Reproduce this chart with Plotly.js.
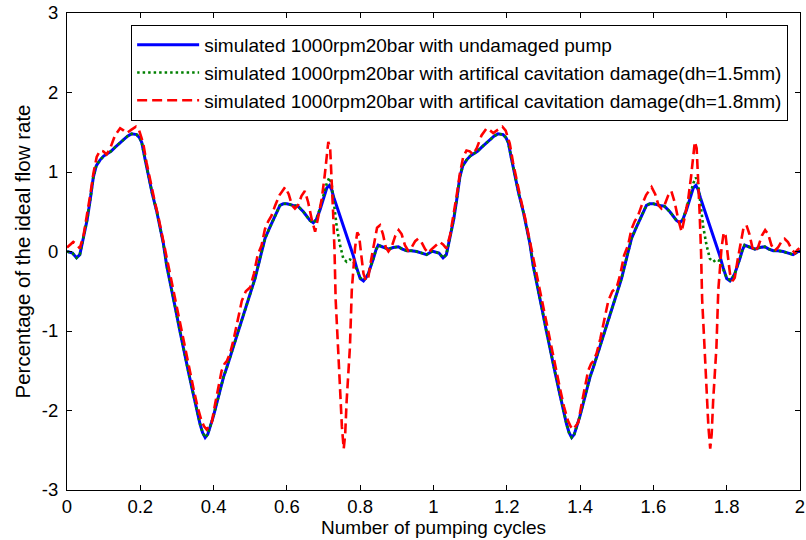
<!DOCTYPE html>
<html>
<head>
<meta charset="utf-8">
<script src="https://cdn.plot.ly/plotly-3.0.1.min.js"></script>
<style>
  html, body { margin: 0; padding: 0; background: #ffffff; }
  #chart { width: 806px; height: 540px; }
</style>
</head>
<body>
<div id="chart"></div>
<script>
// ---- Data ----
const seriesNames = [
  "simulated 1000rpm20bar with undamaged pump",
  "simulated 1000rpm20bar with artifical cavitation damage(dh=1.5mm)",
  "simulated 1000rpm20bar with artifical cavitation damage(dh=1.8mm)"
];

// x positions (pumping cycles) shared by the undamaged and dh=1.5mm curves
const xCycle1 = [
  0, 0.015, 0.026, 0.035, 0.045, 0.055, 0.063, 0.072, 0.08, 0.09,
  0.1, 0.11, 0.12, 0.131, 0.143, 0.154, 0.165, 0.176, 0.19, 0.198,
  0.204, 0.213, 0.222, 0.233, 0.245, 0.255, 0.263, 0.272, 0.285, 0.296,
  0.308, 0.32, 0.333, 0.345, 0.355, 0.363, 0.37, 0.377, 0.384, 0.39,
  0.399, 0.408, 0.418, 0.427, 0.436, 0.447, 0.457, 0.467, 0.478, 0.49,
  0.499, 0.513, 0.527, 0.54, 0.554, 0.568, 0.581, 0.59, 0.6, 0.617,
  0.63, 0.645, 0.655, 0.663, 0.672, 0.68, 0.69, 0.7, 0.709, 0.716,
  0.722, 0.728, 0.736, 0.745, 0.754, 0.763, 0.772, 0.781, 0.79, 0.8,
  0.809, 0.816, 0.822, 0.83, 0.836, 0.843, 0.849, 0.86, 0.877, 0.89,
  0.904, 0.915, 0.927, 0.94, 0.954, 0.968, 0.981, 0.995
];
const xCycle2 = [
  1, 1.015, 1.026, 1.035, 1.045, 1.055, 1.063, 1.072, 1.08, 1.09,
  1.1, 1.11, 1.12, 1.131, 1.143, 1.154, 1.165, 1.176, 1.19, 1.198,
  1.204, 1.213, 1.222, 1.233, 1.245, 1.255, 1.263, 1.272, 1.285, 1.296,
  1.308, 1.32, 1.333, 1.345, 1.355, 1.363, 1.37, 1.377, 1.384, 1.39,
  1.399, 1.408, 1.418, 1.427, 1.436, 1.447, 1.457, 1.467, 1.478, 1.49,
  1.499, 1.513, 1.527, 1.54, 1.554, 1.568, 1.581, 1.59, 1.6, 1.617,
  1.63, 1.645, 1.655, 1.663, 1.672, 1.68, 1.69, 1.7, 1.709, 1.716,
  1.722, 1.728, 1.736, 1.745, 1.754, 1.763, 1.772, 1.781, 1.79, 1.8,
  1.809, 1.816, 1.822, 1.83, 1.836, 1.843, 1.849, 1.86, 1.877, 1.89,
  1.904, 1.915, 1.927, 1.94, 1.954, 1.968, 1.981, 1.995, 2
];

const yUndamaged1 = [
  0, -0.02, -0.08, -0.04, 0.18, 0.40, 0.64, 0.94, 1.08, 1.15,
  1.20, 1.23, 1.26, 1.31, 1.36, 1.41, 1.45, 1.48, 1.47, 1.43,
  1.37, 1.16, 0.94, 0.72, 0.50, 0.28, 0.10, -0.18, -0.45, -0.72,
  -1.00, -1.28, -1.55, -1.80, -2.02, -2.17, -2.28, -2.34, -2.30, -2.22,
  -2.08, -1.92, -1.72, -1.58, -1.46, -1.30, -1.14, -1.00, -0.84, -0.66,
  -0.55, -0.34, -0.08, 0.16, 0.31, 0.45, 0.58, 0.60, 0.60, 0.58,
  0.57, 0.50, 0.44, 0.39, 0.36, 0.40, 0.52, 0.66, 0.80, 0.83,
  0.78, 0.68, 0.57, 0.46, 0.35, 0.22, 0.08, -0.05, -0.20, -0.34,
  -0.37, -0.33, -0.28, -0.18, -0.09, 0.02, 0.08, 0.06, 0.03, 0.05,
  0.06, 0.03, 0.01, 0.01, 0.00, -0.02, -0.04, 0.00
];
const yUndamaged2 = [
  0, -0.02, -0.08, -0.04, 0.18, 0.40, 0.64, 0.94, 1.08, 1.15,
  1.20, 1.23, 1.26, 1.31, 1.36, 1.41, 1.45, 1.48, 1.47, 1.43,
  1.37, 1.16, 0.94, 0.72, 0.50, 0.28, 0.10, -0.18, -0.45, -0.72,
  -1.00, -1.28, -1.55, -1.80, -2.02, -2.17, -2.28, -2.34, -2.30, -2.22,
  -2.08, -1.92, -1.72, -1.58, -1.46, -1.30, -1.14, -1.00, -0.84, -0.66,
  -0.55, -0.34, -0.08, 0.16, 0.31, 0.45, 0.58, 0.60, 0.60, 0.58,
  0.57, 0.50, 0.44, 0.39, 0.36, 0.40, 0.52, 0.66, 0.80, 0.83,
  0.78, 0.68, 0.57, 0.46, 0.35, 0.22, 0.08, -0.05, -0.20, -0.34,
  -0.37, -0.33, -0.28, -0.18, -0.09, 0.02, 0.08, 0.06, 0.03, 0.05,
  0.06, 0.03, 0.01, 0.01, 0.00, -0.02, -0.04, 0.00, 0.00
];

const yDamage15_1 = [
  0, -0.02, -0.08, -0.04, 0.18, 0.40, 0.64, 0.94, 1.08, 1.15,
  1.20, 1.23, 1.26, 1.31, 1.36, 1.41, 1.45, 1.48, 1.47, 1.43,
  1.37, 1.16, 0.94, 0.72, 0.50, 0.28, 0.10, -0.18, -0.45, -0.72,
  -1.00, -1.28, -1.55, -1.80, -2.02, -2.17, -2.28, -2.34, -2.30, -2.22,
  -2.08, -1.92, -1.72, -1.58, -1.46, -1.30, -1.14, -1.00, -0.84, -0.66,
  -0.55, -0.34, -0.08, 0.16, 0.31, 0.45, 0.58, 0.60, 0.60, 0.58,
  0.57, 0.50, 0.44, 0.39, 0.36, 0.40, 0.54, 0.70, 0.86, 0.93,
  0.85, 0.62, 0.31, 0.08, -0.09, -0.13, -0.10, -0.12, -0.22, -0.33,
  -0.36, -0.33, -0.28, -0.18, -0.09, 0.02, 0.08, 0.06, 0.03, 0.05,
  0.06, 0.03, 0.01, 0.01, 0.00, -0.02, -0.04, 0.00
];
const yDamage15_2 = [
  0, -0.02, -0.08, -0.04, 0.18, 0.40, 0.64, 0.94, 1.08, 1.15,
  1.20, 1.23, 1.26, 1.31, 1.36, 1.41, 1.45, 1.48, 1.47, 1.43,
  1.37, 1.16, 0.94, 0.72, 0.50, 0.28, 0.10, -0.18, -0.45, -0.72,
  -1.00, -1.28, -1.55, -1.80, -2.02, -2.17, -2.28, -2.34, -2.30, -2.22,
  -2.08, -1.92, -1.72, -1.58, -1.46, -1.30, -1.14, -1.00, -0.84, -0.66,
  -0.55, -0.34, -0.08, 0.16, 0.31, 0.45, 0.58, 0.60, 0.60, 0.58,
  0.57, 0.50, 0.44, 0.39, 0.36, 0.40, 0.54, 0.70, 0.86, 0.93,
  0.85, 0.62, 0.31, 0.08, -0.09, -0.13, -0.10, -0.12, -0.22, -0.33,
  -0.36, -0.33, -0.28, -0.18, -0.09, 0.02, 0.08, 0.06, 0.03, 0.05,
  0.06, 0.03, 0.01, 0.01, 0.00, -0.02, -0.04, 0.00, 0.00
];

// dh = 1.8 mm curve has its own sample positions
const xDamage18_1 = [
  0, 0.008, 0.017, 0.026, 0.035, 0.045, 0.055, 0.063, 0.072, 0.081,
  0.09, 0.099, 0.108, 0.118, 0.131, 0.145, 0.155, 0.163, 0.175, 0.188,
  0.197, 0.208, 0.217, 0.227, 0.238, 0.25, 0.26, 0.27, 0.282, 0.295,
  0.308, 0.32, 0.333, 0.345, 0.356, 0.367, 0.374, 0.381, 0.388, 0.395,
  0.404, 0.413, 0.422, 0.43, 0.436, 0.445, 0.455, 0.466, 0.477, 0.488,
  0.5, 0.51, 0.52, 0.531, 0.54, 0.549, 0.558, 0.568, 0.58, 0.595,
  0.605, 0.614, 0.622, 0.63, 0.64, 0.649, 0.658, 0.668, 0.677, 0.684,
  0.69, 0.695, 0.703, 0.708, 0.713, 0.718, 0.722, 0.726, 0.73, 0.733,
  0.74, 0.745, 0.75, 0.755, 0.759, 0.763, 0.768, 0.772, 0.777, 0.782,
  0.786, 0.792, 0.797, 0.803, 0.809, 0.816, 0.822, 0.83, 0.838, 0.846,
  0.854, 0.862, 0.87, 0.877, 0.886, 0.896, 0.905, 0.913, 0.922, 0.931,
  0.94, 0.95, 0.958, 0.967, 0.977, 0.986, 0.993
];
const xDamage18_2 = [
  1, 1.008, 1.017, 1.026, 1.035, 1.045, 1.055, 1.063, 1.072, 1.081,
  1.09, 1.099, 1.108, 1.118, 1.131, 1.145, 1.155, 1.163, 1.175, 1.188,
  1.197, 1.208, 1.217, 1.227, 1.238, 1.25, 1.26, 1.27, 1.282, 1.295,
  1.308, 1.32, 1.333, 1.345, 1.356, 1.367, 1.374, 1.381, 1.388, 1.395,
  1.404, 1.413, 1.422, 1.43, 1.436, 1.445, 1.455, 1.466, 1.477, 1.488,
  1.5, 1.51, 1.52, 1.531, 1.54, 1.549, 1.558, 1.568, 1.58, 1.595,
  1.605, 1.614, 1.622, 1.63, 1.64, 1.649, 1.658, 1.668, 1.677, 1.684,
  1.69, 1.695, 1.703, 1.708, 1.713, 1.718, 1.722, 1.726, 1.73, 1.733,
  1.74, 1.745, 1.75, 1.755, 1.759, 1.763, 1.768, 1.772, 1.777, 1.782,
  1.786, 1.792, 1.797, 1.803, 1.809, 1.816, 1.822, 1.83, 1.838, 1.846,
  1.854, 1.862, 1.87, 1.877, 1.886, 1.896, 1.905, 1.913, 1.922, 1.931,
  1.94, 1.95, 1.958, 1.967, 1.977, 1.986, 1.993, 2
];
const yDamage18_1 = [
  0.05, 0.08, 0.12, 0.09, 0.04, 0.20, 0.45, 0.70, 0.98, 1.19,
  1.27, 1.26, 1.22, 1.30, 1.46, 1.55, 1.52, 1.49, 1.53, 1.57,
  1.52, 1.36, 1.12, 0.88, 0.66, 0.42, 0.20, -0.05, -0.32, -0.60,
  -0.87, -1.15, -1.45, -1.72, -1.95, -2.13, -2.20, -2.24, -2.20, -2.15,
  -1.92, -1.70, -1.50, -1.41, -1.38, -1.28, -1.10, -0.86, -0.62, -0.50,
  -0.45, -0.28, -0.05, 0.08, 0.28, 0.38, 0.45, 0.58, 0.71, 0.81,
  0.72, 0.58, 0.54, 0.58, 0.70, 0.76, 0.62, 0.40, 0.25, 0.40,
  0.55, 0.66, 0.95, 1.20, 1.38, 1.30, 0.95, 0.50, 0.00, -0.60,
  -1.25, -1.75, -2.20, -2.48, -2.30, -1.88, -1.50, -1.20, -0.49, -0.15,
  0.05, 0.24, 0.20, -0.05, -0.28, -0.37, -0.33, -0.10, 0.12, 0.30,
  0.33, 0.22, 0.05, 0.00, 0.06, 0.20, 0.27, 0.22, 0.08, 0.01,
  0.05, 0.13, 0.16, 0.12, 0.03, -0.02, 0.02
];
const yDamage18_2 = [
  0.05, 0.08, 0.12, 0.09, 0.04, 0.20, 0.45, 0.70, 0.98, 1.19,
  1.27, 1.26, 1.22, 1.30, 1.46, 1.55, 1.52, 1.49, 1.53, 1.57,
  1.52, 1.36, 1.12, 0.88, 0.66, 0.42, 0.20, -0.05, -0.32, -0.60,
  -0.87, -1.15, -1.45, -1.72, -1.95, -2.13, -2.20, -2.24, -2.20, -2.15,
  -1.92, -1.70, -1.50, -1.41, -1.38, -1.28, -1.10, -0.86, -0.62, -0.50,
  -0.45, -0.28, -0.05, 0.08, 0.28, 0.38, 0.45, 0.58, 0.71, 0.81,
  0.72, 0.58, 0.54, 0.58, 0.70, 0.76, 0.62, 0.40, 0.25, 0.40,
  0.55, 0.66, 0.95, 1.20, 1.38, 1.30, 0.95, 0.50, 0.00, -0.60,
  -1.25, -1.75, -2.20, -2.48, -2.30, -1.88, -1.50, -1.20, -0.49, -0.15,
  0.05, 0.24, 0.20, -0.05, -0.28, -0.37, -0.33, -0.10, 0.12, 0.30,
  0.33, 0.22, 0.05, 0.00, 0.06, 0.20, 0.27, 0.22, 0.08, 0.01,
  0.05, 0.13, 0.16, 0.12, 0.03, -0.02, 0.02, 0.05
];

const xTickVals = [0, 0.2, 0.4, 0.6, 0.8, 1, 1.2, 1.4, 1.6, 1.8, 2];
const xTickText = ["0", "0.2", "0.4", "0.6", "0.8", "1", "1.2", "1.4", "1.6", "1.8", "2"];
const yTickVals = [-3, -2, -1, 0, 1, 2, 3];
const yTickText = ["-3", "-2", "-1", "0", "1", "2", "3"];

const xTitle = "Number of pumping cycles";
const yTitle = "Percentage of the ideal flow rate";

// ---- Build traces ----
const FONT = "Arial, 'Liberation Sans', Helvetica, sans-serif";

const traces = [
  {
    x: xCycle1.concat(xCycle2), y: yUndamaged1.concat(yUndamaged2),
    name: seriesNames[0], type: "scatter", mode: "lines",
    line: { color: "rgb(0,0,255)", width: 3 }
  },
  {
    x: xCycle1.concat(xCycle2), y: yDamage15_1.concat(yDamage15_2),
    name: seriesNames[1], type: "scatter", mode: "lines",
    line: { color: "rgb(0,128,0)", width: 2.6, dash: "2.5px,3px" }
  },
  {
    x: xDamage18_1.concat(xDamage18_2), y: yDamage18_1.concat(yDamage18_2),
    name: seriesNames[2], type: "scatter", mode: "lines",
    line: { color: "rgb(255,0,0)", width: 2.6, dash: "10px,5px" }
  }
];

const axisCommon = {
  showline: true, linecolor: "#000", linewidth: 1,
  mirror: "ticks", ticks: "inside", ticklen: 5, tickcolor: "#000", tickwidth: 1,
  showgrid: false, zeroline: false,
  tickfont: { family: FONT, size: 18.5, color: "#000" }
};

const layout = {
  width: 806, height: 540,
  margin: { l: 67, r: 6, t: 13, b: 50 },
  paper_bgcolor: "#fff", plot_bgcolor: "#fff",
  font: { family: FONT, color: "#000" },
  showlegend: true,
  xaxis: Object.assign({}, axisCommon, {
    range: [0, 2], tickmode: "array", tickvals: xTickVals, ticktext: xTickText,
    title: { text: xTitle, font: { family: FONT, size: 19, color: "#000" }, standoff: 4 }
  }),
  yaxis: Object.assign({}, axisCommon, {
    range: [-3, 3], tickmode: "array", tickvals: yTickVals, ticktext: yTickText,
    ticklabelstandoff: 4,
    title: { text: yTitle, font: { family: FONT, size: 20.5, color: "#000" }, standoff: 5 }
  }),
  legend: {
    x: 0.0875, y: 0.975, xanchor: "left", yanchor: "top",
    bgcolor: "#fff", bordercolor: "#000", borderwidth: 1,
    font: { family: FONT, size: 19, color: "#000" },
    itemwidth: 62
  }
};

Plotly.newPlot("chart", traces, layout, { displayModeBar: false, staticPlot: true });
</script>
</body>
</html>
